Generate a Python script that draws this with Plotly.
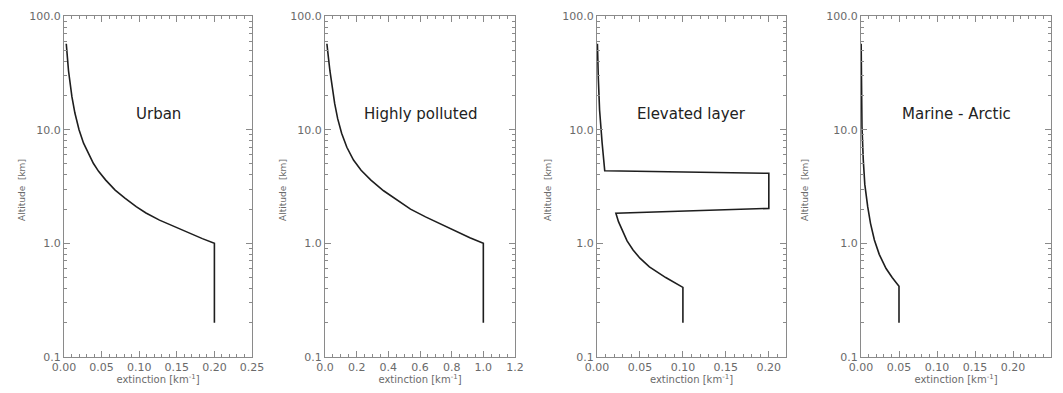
import plotly.graph_objects as go

# ---- data ----
urban_alt = [0.2, 1.0, 1.1, 1.21, 1.4, 1.6, 1.85, 2.1, 2.5, 2.94, 3.6, 4.3, 5.06, 6.2, 7.6,
             10.0, 14.0, 19.5, 26.0, 33.0, 45.0, 57.0]
urban_ext = [0.2, 0.2, 0.184, 0.169, 0.147, 0.127, 0.109, 0.096, 0.081, 0.068, 0.0555, 0.046,
             0.039, 0.032, 0.026, 0.020, 0.0145, 0.0105, 0.0078, 0.006, 0.0043, 0.003]

poll_alt = [0.2, 1.0, 1.12, 1.31, 1.5, 1.71, 2.0, 2.4, 2.9, 3.6, 4.4, 5.4, 7.0, 9.3, 12.5,
            17.0, 24.0, 33.0, 45.0, 57.0]
poll_ext = [1.0, 1.0, 0.915, 0.81, 0.72, 0.635, 0.54, 0.455, 0.37, 0.29, 0.228, 0.18, 0.138,
            0.105, 0.08, 0.061, 0.044, 0.031, 0.02, 0.012]

elev_alt = [0.2, 0.41, 0.5, 0.62, 0.74, 0.873, 1.05, 1.31, 1.55, 1.84, 2.03, 4.13, 4.35,
            7.6, 14.9, 29.0, 57.0]
elev_ext = [0.1, 0.1, 0.08, 0.061, 0.05, 0.042, 0.035, 0.029, 0.025, 0.022, 0.2, 0.2, 0.009,
            0.006, 0.003, 0.0015, 0.0005]

mar_alt = [0.2, 0.42, 0.5, 0.6, 0.8, 1.07, 1.5, 2.1, 3.3, 5.4, 10.6, 29.0, 57.0]
mar_ext = [0.05, 0.05, 0.041, 0.033, 0.024, 0.0176, 0.0125, 0.0088, 0.005, 0.003, 0.0013,
           0.0005, 0.0002]

titles = ["Urban", "Highly polluted", "Elevated layer", "Marine - Arctic"]
x_ranges = [[0, 0.25], [0, 1.2], [0, 0.22], [0, 0.25]]
x_major = [0.05, 0.2, 0.05, 0.05]
x_minor = [0.01, 0.05, 0.01, 0.01]
x_fmt = [".2f", ".1f", ".2f", ".2f"]
y_tickvals = [0.1, 1, 10, 100]
y_ticktext = ["0.1", "1.0", "10.0", "100.0"]

series = [(urban_ext, urban_alt), (poll_ext, poll_alt), (elev_ext, elev_alt), (mar_ext, mar_alt)]

# page body has an 8px margin: figure is sized/placed to compensate
OFF = 8
W, H = 1063 - 2 * OFF, 393 - 2 * OFF
px_domains = [(64, 252), (325, 515), (597, 786), (861, 1051)]
y_top, y_bot = 16, 357
y_dom = [1 - (y_bot - OFF) / H, 1 - (y_top - OFF) / H]

AX = "#8a8a8a"
TXT = "#6a6a6a"
FONT = "DejaVu Sans"

y_minor = [m * 10 ** e for e in (-1, 0, 1) for m in range(2, 10)]

fig = go.Figure()
annotations = []
for i, (xs, ys) in enumerate(series):
    n = "" if i == 0 else str(i + 1)
    fig.add_trace(go.Scatter(x=xs, y=ys, mode="lines",
                             line=dict(color="#1e1e1e", width=1.6),
                             xaxis="x" + n, yaxis="y" + n, showlegend=False))
    dom = [(px_domains[i][0] - OFF) / W, (px_domains[i][1] - OFF) / W]
    fig.layout["xaxis" + n] = dict(
        domain=dom, range=x_ranges[i], anchor="y" + n, automargin=False,
        showline=True, linecolor=AX, linewidth=1, mirror="ticks",
        ticks="inside", ticklen=6, tickcolor=AX, tickwidth=1,
        dtick=x_major[i], tick0=0, tickformat=x_fmt[i],
        minor=dict(dtick=x_minor[i], tick0=0, ticks="inside", ticklen=3, tickcolor=AX),
        showgrid=False, zeroline=False,
        tickfont=dict(family=FONT, size=11, color=TXT),
        title=dict(text="extinction [km<sup>-1</sup>]", standoff=2,
                   font=dict(family=FONT, size=10, color=TXT)),
    )
    fig.layout["yaxis" + n] = dict(
        domain=y_dom, type="log", range=[-1, 2], anchor="x" + n, automargin=False,
        showline=True, linecolor=AX, linewidth=1, mirror="ticks",
        ticks="inside", ticklen=6, tickcolor=AX, tickwidth=1,
        tickmode="array", tickvals=y_tickvals, ticktext=y_ticktext,
        minor=dict(tickmode="array", tickvals=y_minor, ticks="inside", ticklen=3, tickcolor=AX),
        showgrid=False, zeroline=False,
        tickfont=dict(family=FONT, size=11, color=TXT),
    )
    annotations.append(dict(text=titles[i], xref="x" + n + " domain", yref="y" + n + " domain",
                            x=0.5, y=0.745, showarrow=False,
                            font=dict(family=FONT, size=15, color="#222222")))
    annotations.append(dict(text="Altitude  [km]", xref="paper", yref="paper",
                            x=(px_domains[i][0] - 49 - OFF) / W, y=1 - (190 - OFF) / H,
                            textangle=-90, showarrow=False,
                            font=dict(family=FONT, size=9, color=TXT)))

fig.update_layout(width=W, height=H, margin=dict(l=0, r=0, t=0, b=0),
                  plot_bgcolor="white", paper_bgcolor="white",
                  annotations=annotations)
fig.write_html("out.html")
